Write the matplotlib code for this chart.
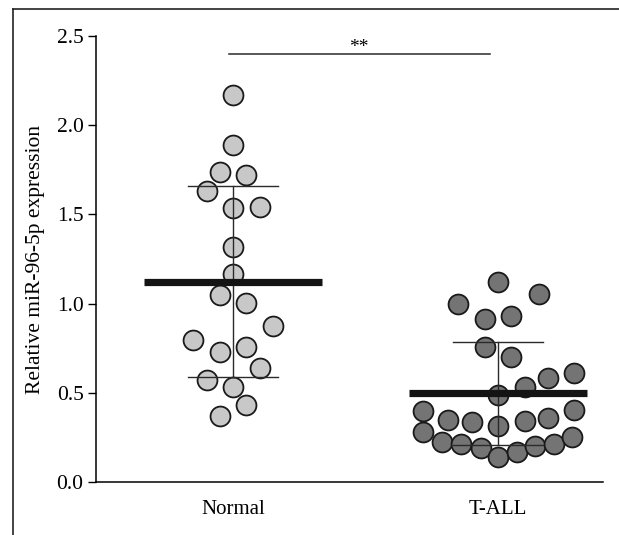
import matplotlib
matplotlib.use("Agg")
import matplotlib.pyplot as plt
from matplotlib.lines import Line2D

# ---- data ----
groups = ["Normal", "T-ALL"]
normal_values = [2.169, 1.889, 1.739, 1.723, 1.631, 1.534, 1.543, 1.319, 1.164, 1.048,
                 1.005, 0.876, 0.796, 0.727, 0.759, 0.637, 0.572, 0.531, 0.432, 0.372]
normal_jitter = [0, 0, -1, 1, -2, 0, 2, 0, 0, -1, 1, 3, -3, -1, 1, 2, -2, 0, 1, -1]
tall_values = [1.123, 1.054, 0.996, 0.914, 0.932, 0.759, 0.699, 0.613, 0.581, 0.534,
               0.488, 0.398, 0.348, 0.335, 0.316, 0.340, 0.359, 0.404, 0.282, 0.224,
               0.213, 0.189, 0.142, 0.170, 0.203, 0.211, 0.251]
tall_jitter = [0, 3.1, -3.0, -1, 1, -1, 1, 5.7, 3.8, 2, 0, -5.7, -3.8, -2, 0, 2, 3.8, 5.7,
               -5.7, -4.2, -2.8, -1.3, 0, 1.4, 2.8, 4.2, 5.6]
means = [1.123, 0.497]
sds = [0.536, 0.288]
sig_label = "**"
ylabel = "Relative miR-96-5p expression"
yticks = [0.0, 0.5, 1.0, 1.5, 2.0, 2.5]

plt.rcParams["font.family"] = ["Liberation Serif", "DejaVu Serif"]

W, H = 619, 535
fig = plt.figure(figsize=(W / 100, H / 100), dpi=100)
ax = fig.add_axes([96 / W, (H - 482) / H, (603 - 96) / W, (482 - 36) / H])

step = 0.05
fills = ["#c8c8c8", "#747474"]
for i, (vals, jit) in enumerate([(normal_values, normal_jitter), (tall_values, tall_jitter)]):
    xs = [i + j * step for j in jit]
    ax.scatter(xs, vals, s=205, facecolor=fills[i], edgecolor="#1a1a1a",
               linewidth=1.3, zorder=2)
    ax.plot([i - 0.335, i + 0.335], [means[i], means[i]], color="#141414",
            lw=5.2, solid_capstyle="butt", zorder=4)
    ax.plot([i, i], [means[i] - sds[i], means[i] + sds[i]], color="#2a2a2a", lw=1.0, zorder=3)
    for yv in (means[i] - sds[i], means[i] + sds[i]):
        ax.plot([i - 0.17, i + 0.17], [yv, yv], color="#2a2a2a", lw=1.0, zorder=3)

# significance
ax.plot([-0.015, 0.97], [2.40, 2.40], color="#2a2a2a", lw=1.1)
ax.text(0.476, 2.435, sig_label, ha="center", va="center", fontsize=14)

ax.set_xlim(-0.517, 1.396)
ax.set_ylim(0, 2.5)
ax.set_yticks(yticks)
ax.set_yticklabels([f"{t:.1f}" for t in yticks], fontsize=15.5)
ax.set_xticks([0, 1])
ax.set_xticklabels(groups, fontsize=15)
ax.tick_params(axis="x", length=0, pad=13)
ax.tick_params(axis="y", length=6, width=1.0, pad=3)
ax.set_ylabel(ylabel, fontsize=15.5, labelpad=8)
for s in ("top", "right"):
    ax.spines[s].set_visible(False)
for s in ("left", "bottom"):
    ax.spines[s].set_linewidth(1.1)
ax.spines["left"].set_bounds(0, 2.5)

# outer frame (top and left edges)
fig.add_artist(Line2D([12.5 / W, 12.5 / W], [0, (H - 9) / H], transform=fig.transFigure,
                      color="#222222", lw=1.2))
fig.add_artist(Line2D([12.5 / W, 1], [(H - 9) / H, (H - 9) / H], transform=fig.transFigure,
                      color="#222222", lw=1.2))

fig.savefig("out.png", dpi=100)
